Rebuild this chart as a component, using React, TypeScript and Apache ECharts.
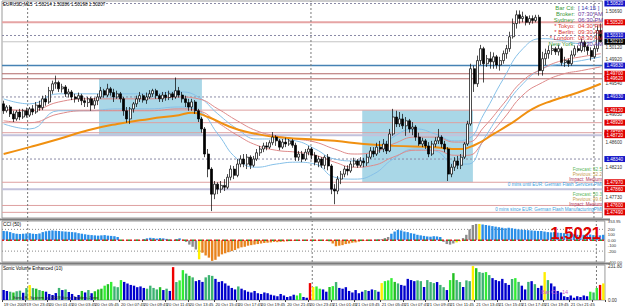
import { useEffect, useRef } from "react";
import * as echarts from "echarts";

const FONT = "'Liberation Sans', Arial, sans-serif";

// x-axis tick labels and the bar index at which each one sits
const tickLabels = [
  "19 Oct 2009", "19 Oct 23:45",
  "20 Oct 01:45", "20 Oct 03:45", "20 Oct 05:45", "20 Oct 07:45", "20 Oct 09:45", "20 Oct 11:45",
  "20 Oct 13:45", "20 Oct 15:45", "20 Oct 17:45", "20 Oct 19:45", "20 Oct 21:45", "20 Oct 23:45",
  "21 Oct 01:45", "21 Oct 03:45", "21 Oct 05:45", "21 Oct 07:45", "21 Oct 09:45", "21 Oct 11:45",
  "21 Oct 13:45", "21 Oct 15:45", "21 Oct 17:45", "21 Oct 19:45", "21 Oct 21:45", "21 Oct 23:45",
];
const tickIndex = [0, 7, 14, 21, 28, 36, 43, 50, 57, 65, 72, 79, 87, 94, 101, 108, 116, 123, 130, 137, 145, 152, 159, 166, 174, 181];
// day separators, in bar units (bar i is centred on i)
const daySeparators = [7.4, 94.7, 181.9];

// EURUSD M15 candles in pips (price * 10000): [open, close, low, high]
const candles = [
  [14922,14911,14906,14927],[14911,14917,14908,14920],[14917,14906,14901,14920],[14906,14898,14893,14911],[14898,14909,14895,14912],
  [14909,14901,14896,14914],[14901,14911,14898,14914],[14911,14904,14900,14916],[14904,14914,14901,14917],[14914,14909,14904,14920],
  [14909,14920,14906,14925],[14920,14916,14911,14927],[14916,14930,14912,14935],[14930,14925,14919,14936],[14925,14943,14922,14949],
  [14943,14954,14938,14959],[14954,14956,14946,14967],[14956,14946,14941,14959],[14946,14949,14940,14954],[14949,14938,14933,14952],
  [14938,14941,14932,14946],[14941,14933,14928,14944],[14933,14930,14924,14938],[14930,14935,14925,14940],[14935,14927,14920,14938],
  [14927,14924,14917,14932],[14924,14930,14917,14933],[14930,14920,14911,14933],[14920,14927,14914,14932],[14927,14933,14920,14938],
  [14933,14943,14930,14949],[14943,14936,14932,14946],[14936,14946,14933,14954],[14946,14940,14935,14949],[14940,14933,14925,14946],
  [14933,14938,14930,14943],[14938,14930,14924,14941],[14930,14911,14903,14933],[14911,14898,14892,14917],[14898,14914,14890,14917],
  [14914,14922,14908,14925],[14922,14930,14917,14935],[14930,14935,14925,14941],[14935,14928,14924,14938],[14928,14933,14922,14940],
  [14933,14938,14930,14944],[14938,14943,14933,14946],[14943,14935,14930,14946],[14935,14930,14925,14938],[14930,14936,14925,14941],
  [14936,14932,14927,14941],[14932,14938,14928,14943],[14938,14933,14928,14941],[14933,14943,14930,14964],[14943,14936,14932,14949],
  [14936,14930,14924,14941],[14930,14924,14917,14935],[14924,14917,14911,14930],[14917,14925,14911,14930],[14925,14911,14906,14928],
  [14911,14898,14893,14914],[14898,14882,14876,14901],[14882,14842,14837,14885],[14842,14818,14805,14850],[14818,14778,14751,14821],
  [14778,14794,14770,14799],[14794,14786,14778,14797],[14786,14792,14780,14799],[14792,14789,14783,14802],[14789,14805,14786,14810],
  [14805,14818,14800,14824],[14818,14808,14802,14823],[14808,14826,14805,14834],[14826,14834,14821,14840],[14834,14826,14821,14842],
  [14826,14837,14818,14842],[14837,14824,14818,14840],[14824,14834,14821,14839],[14834,14844,14831,14850],[14844,14850,14839,14855],
  [14850,14855,14845,14860],[14855,14853,14848,14861],[14853,14860,14850,14864],[14860,14869,14856,14877],[14869,14863,14855,14872],
  [14863,14853,14848,14866],[14853,14861,14850,14866],[14861,14858,14853,14868],[14858,14863,14855,14866],[14863,14856,14852,14866],
  [14856,14837,14831,14860],[14837,14842,14831,14847],[14842,14834,14829,14847],[14834,14845,14831,14850],[14845,14850,14840,14855],
  [14850,14840,14834,14853],[14840,14829,14824,14845],[14829,14834,14821,14839],[14834,14824,14820,14837],[14824,14837,14818,14840],
  [14837,14823,14816,14842],[14823,14786,14778,14826],[14786,14783,14762,14794],[14783,14802,14778,14807],[14802,14810,14794,14815],
  [14810,14818,14805,14823],[14818,14815,14808,14824],[14815,14826,14812,14831],[14826,14831,14821,14836],[14831,14824,14820,14834],
  [14824,14831,14821,14837],[14831,14828,14821,14836],[14828,14837,14823,14842],[14837,14847,14834,14853],[14847,14842,14837,14853],
  [14842,14853,14839,14860],[14853,14850,14844,14863],[14850,14858,14845,14866],[14858,14847,14842,14863],[14847,14874,14845,14882],
  [14874,14901,14871,14914],[14901,14890,14885,14911],[14890,14898,14885,14909],[14898,14887,14882,14906],[14887,14895,14871,14901],
  [14895,14882,14876,14898],[14882,14885,14872,14893],[14885,14869,14863,14888],[14869,14858,14855,14876],[14858,14863,14853,14868],
  [14863,14855,14850,14866],[14855,14842,14837,14861],[14842,14858,14839,14863],[14858,14863,14853,14869],[14863,14869,14858,14882],
  [14869,14858,14852,14872],[14858,14850,14845,14863],[14850,14810,14799,14853],[14810,14821,14805,14826],[14821,14831,14815,14837],
  [14831,14824,14818,14839],[14824,14837,14818,14842],[14837,14858,14834,14861],[14858,14890,14855,14895],[14890,14978,14887,14986],
  [14978,14954,14941,14983],[14954,14991,14949,14999],[14991,15010,14984,15016],[15010,14986,14956,15013],[14986,14994,14981,15000],
  [14994,14989,14978,15005],[14989,14997,14978,15004],[14997,14984,14978,15000],[14984,14991,14975,14997],[14991,15002,14986,15007],
  [15002,15010,14994,15016],[15010,15029,15005,15037],[15029,15050,15026,15058],[15050,15064,15042,15071],[15064,15058,15050,15071],
  [15058,15061,15052,15069],[15061,15052,15047,15064],[15052,15058,15048,15063],[15058,15055,15050,15063],[15055,15060,15052,15064],
  [15060,14975,14967,15064],[14975,14994,14967,15005],[14994,15002,14984,15010],[15002,15007,14994,15015],[15007,15010,15000,15016],
  [15010,15005,15000,15013],[15005,15010,14999,15016],[15010,14988,14983,15013],[14988,14991,14981,14997],[14991,14986,14981,14994],
  [14986,15000,14983,15007],[15000,15010,14997,15015],[15010,15007,15004,15015],[15007,15020,15004,15026],[15020,15013,15005,15023],
  [15013,15007,15000,15016],[15007,14997,14991,15012],[14997,15010,14994,15015],[15010,15039,15005,15047],[15039,15021,15020,15050],
];

// moving averages: [bar index, pips]
const maSlow = [[0,14842],[8,14853],[17,14866],[26,14880],[35,14890],[45,14898],[54,14904],[58,14908],[63,14901],[69,14887],[75,14877],[84,14869],[93,14866],[102,14863],[111,14858],[120,14855],[133,14853],[140,14850],[145,14856],[151,14874],[157,14893],[163,14914],[169,14927],[177,14940],[184,14954]];
const maBlueUpper = [[0,14930],[8,14922],[17,14938],[26,14938],[35,14938],[45,14938],[54,14941],[60,14933],[66,14906],[72,14882],[78,14866],[84,14866],[90,14863],[96,14850],[102,14834],[108,14831],[114,14842],[120,14869],[127,14882],[133,14874],[139,14863],[143,14866],[148,14906],[154,14962],[160,15010],[166,15026],[172,15023],[178,15018],[184,15026]];
const maBlueLower = [[0,14890],[8,14882],[17,14911],[26,14911],[35,14914],[45,14914],[54,14917],[60,14911],[66,14874],[72,14834],[78,14821],[84,14826],[90,14829],[96,14826],[102,14805],[108,14802],[114,14810],[120,14834],[127,14850],[133,14847],[139,14826],[143,14826],[148,14866],[154,14914],[160,14954],[166,14978],[172,14986],[178,14991],[184,14997]];
const maRedUpper = [[0,14914],[8,14911],[17,14925],[26,14930],[35,14930],[45,14930],[54,14933],[60,14930],[66,14914],[72,14895],[78,14879],[84,14871],[90,14866],[96,14861],[102,14850],[108,14842],[114,14845],[120,14858],[127,14869],[133,14869],[139,14861],[143,14861],[148,14885],[154,14922],[160,14959],[166,14978],[172,14991],[178,14997],[184,15002]];
const maRedLower = [[0,14895],[8,14892],[17,14906],[26,14911],[35,14911],[45,14911],[54,14914],[60,14911],[66,14892],[72,14872],[78,14856],[84,14848],[90,14845],[96,14840],[102,14829],[108,14821],[114,14824],[120,14837],[127,14848],[133,14848],[139,14840],[143,14840],[148,14863],[154,14898],[160,14936],[166,14956],[172,14969],[178,14975],[184,14981]];

// session range boxes (bar units)
const sessionBoxes = [
  { start: 29.4, end: 61.1, high: 1.4962, low: 1.4872 },
  { start: 110.5, end: 144.6, high: 1.4912, low: 1.4797 },
];

// horizontal levels drawn on the price pane
const levelLines = [
  { price: 1.5082, kind: "pivot" },
  { price: 1.5052, kind: "zoneBold" },
  { price: 1.5031, kind: "pivot" },
  { price: 1.5021, kind: "bid" },
  { price: 1.4983, kind: "daily" },
  { price: 1.497, kind: "sr" },
  { price: 1.4962, kind: "sr" },
  { price: 1.4933, kind: "pivot" },
  { price: 1.4912, kind: "zone" },
  { price: 1.4892, kind: "zone" },
  { price: 1.4876, kind: "zone" },
  { price: 1.4872, kind: "range" },
  { price: 1.4834, kind: "pivot" },
  { price: 1.4797, kind: "zone" },
  { price: 1.4786, kind: "range" },
  { price: 1.476, kind: "zone" },
  { price: 1.4749, kind: "zone" },
];
const priceTicks = [1.5069, 1.5012, 1.4992, 1.4954, 1.4905, 1.486, 1.4821, 1.4773];

// CCI(50)
const cci = [
  170,165,150,130,120,115,120,125,130,120,
  115,125,150,165,175,180,175,170,165,160,
  155,150,145,130,120,110,100,95,90,85,
  90,95,85,80,75,60,5,-5,-10,-8,
  5,10,-5,20,35,45,40,30,40,35,
  25,10,5,20,35,10,-30,-80,-120,-170,
  -350,-230,-280,-320,-380,-360,-300,-260,-240,-220,
  -200,-180,-150,-130,-120,-100,-90,-80,-70,-60,
  -50,-45,-40,-30,-35,-30,-25,-20,-15,-10,
  -5,5,-5,-10,5,-5,-8,-10,-5,-12,
  -20,-60,-110,-100,-90,-70,-60,-45,-40,-25,
  -15,-10,-5,5,10,15,20,40,60,120,
  160,190,180,160,150,130,120,100,90,80,
  70,65,75,70,60,-30,-70,-80,-60,-40,
  -20,40,100,200,280,300,300,290,280,270,
  260,250,240,230,220,230,220,210,200,195,
  190,185,180,175,170,170,160,150,145,150,
  140,135,130,125,120,110,100,95,100,110,
  105,95,85,90,100,
];
const cciGrey = [55, 56, 57, 58, 59, 116, 117, 118, 135, 136, 137, 138, 141, 142, 143, 144, 145];
const cciYellow = [60, 139, 140, 146];
const cciLevels = [200, -200];
const cciTicks = [353.95, 200, 100, 0, -100, -200, -400];

// Sonic volume and its bar class
const volume = [
  66,60,55,50,58,62,48,79,99,79,
  75,66,60,55,40,33,46,80,66,70,
  53,40,20,33,60,50,66,45,58,70,
  75,95,105,120,90,85,132,120,110,100,
  95,85,90,80,75,95,80,70,85,66,
  75,60,218,119,130,198,175,160,150,125,
  132,120,150,165,160,140,120,125,110,95,
  80,70,90,75,65,55,50,60,45,40,
  50,45,35,30,25,40,30,20,25,35,
  30,45,20,15,112,86,90,75,70,55,
  86,92,119,80,75,85,60,50,66,45,
  55,66,60,70,66,55,112,125,130,145,
  120,110,100,95,140,132,125,130,125,86,
  132,119,112,119,100,85,66,132,178,132,
  119,86,130,125,225,211,185,180,185,165,
  145,132,125,140,112,100,140,145,120,95,
  70,120,125,105,80,95,185,132,110,90,
  60,50,25,20,30,15,25,20,30,25,
  55,50,80,100,110,
];
const volumeClass = (
  "BBSGSSBSYS" + "GSGBBBBSBS" + "BBBBGBSBGG" + "GLGLSSLBBB" + "BBBBSSSSGB" +
  "SBRSLLSGSB" + "BBSSSBBBBB" + "BBSBBBBBBB" + "BBBBBBBBBB" + "LLBBRYLLBB" +
  "GLSBBBBBBB" + "BSBBSBYLLL" + "GSBBBBBSSB" + "SSSBSSBLGS" + "SBSSYGSSLS" +
  "BBBBBBSLSB" + "BSBSBBYSBB" + "BBBBBBBBBB" + "LSLRY"
).split("");

const P_MIN = 1.474, P_MAX = 1.5086;
const C_MIN = -400, C_MAX = 354;
const V_MAX = 232;

export default function App() {
  const ref = useRef<HTMLDivElement>(null);

  useEffect(() => {
    if (!ref.current) return;
    const chart = echarts.init(ref.current, null, { renderer: "svg" });
    const N = candles.length;
    const X0 = -0.5, X1 = N - 0.5;
    const cat = candles.map((_, i) => String(i));
    const px = (v: number) => v / 10000;
    const ma = (arr: number[][]) => arr.map(([i, v]) => [i, px(v)]);
    const tickFn = (idx: number) => tickIndex.includes(idx);

    const levelStyle: Record<string, any> = {
      pivot: { line: { type: [2, 2], color: "#8a8aa6", width: 1 }, bg: "#1414c8" },
      zoneBold: { line: { type: "solid", color: "#e6a4a4", width: 2 }, bg: "#e00000" },
      zone: { line: { type: "solid", color: "#dea0a0", width: 1 }, bg: "#e00000" },
      bid: { line: { type: "solid", color: "#c4c4c4", width: 1 }, bg: "#000000" },
      daily: { line: { type: "solid", color: "#4682b4", width: 1.5 }, bg: "#1414c8" },
      sr: { line: { type: "solid", color: "#b06a6a", width: 1 }, bg: "#e00000" },
      range: { line: { type: "solid", color: "#c2c2dc", width: 2 }, bg: "#e00000" },
    };

    const volColor: Record<string, string> = {
      B: "#0000cd", S: "#3cb371", G: "#22c022", L: "#33ee33", Y: "#ffee00", R: "#ee0000",
    };

    const hline = (xi: number, yi: number, y: number, lineStyle: any, z = 2, endLabel?: any) => ({
      type: "line", xAxisIndex: xi, yAxisIndex: yi,
      data: [[X0, y], [X1, y]],
      symbol: "none", silent: true, z, lineStyle,
      ...(endLabel ? { endLabel } : {}),
    });
    const vline = (xi: number, yi: number, x: number, lo: number, hi: number) => ({
      type: "line", xAxisIndex: xi, yAxisIndex: yi,
      data: [[x, lo], [x, hi]],
      symbol: "none", silent: true, z: 2,
      lineStyle: { type: [2, 2], color: "#7a7a7a", width: 1 },
    });

    const infoRows = [
      ["Bar Ctl:", "[ 14:15 ]", "#3c9a3c", "#3a3ab0"],
      ["Broker:", "07:30 AM", "#3c9a3c", "#6a3aa0"],
      ["Sydney:", "06:30 PM", "#3c9a3c", "#6a3aa0"],
      ["* Tokyo:", "04:30 PM", "#d83030", "#d83030"],
      ["* Berlin:", "09:30 AM", "#d83030", "#d83030"],
      ["* London:", "08:30 AM", "#d83030", "#d83030"],
      ["New York:", "03:30 AM", "#3c9a3c", "#6a3aa0"],
    ];
    const calRows = [
      ["Forecast: 52.5", "#5cb85c", 169],
      ["Previous: 52.2", "#c8a050", 174],
      ["Impact: Medium", "#b03058", 179],
      ["0 mins until EUR: German Flash Services PMI", "#3aa0e0", 184],
      ["Forecast: 50.3", "#5cb85c", 194],
      ["Previous: 49.6", "#c8a050", 199],
      ["Impact: Medium", "#b03058", 204],
      ["0 mins since EUR: German Flash ManufacturingPMI", "#3aa0e0", 209],
    ];

    const graphic: any[] = [
      { type: "rect", shape: { x: 0, y: 218.5, width: 610, height: 2 }, style: { fill: "#7c7c7c" }, z: 10 },
      { type: "rect", shape: { x: 0, y: 262.5, width: 610, height: 2 }, style: { fill: "#7c7c7c" }, z: 10 },
      { type: "text", x: 3, y: 4.5, style: { text: "EURUSD,M15  1.50214 1.50286 1.50198 1.50207", fontSize: 4.6, fill: "#000", fontFamily: FONT, verticalAlign: "middle" }, z: 20 },
      { type: "text", x: 3, y: 224, style: { text: "CCI (50)", fontSize: 4.8, fill: "#000", fontFamily: FONT, verticalAlign: "middle" }, z: 20 },
      { type: "text", x: 3, y: 268.5, style: { text: "Sonic Volume Enhanced (10)", fontSize: 4.6, fill: "#000", fontFamily: FONT, verticalAlign: "middle" }, z: 20 },
      { type: "text", x: 13, y: 297, style: { text: "Sonic R. System (c) 2009 Sonic Traders Zone", fontSize: 4.2, fill: "#222", fontFamily: FONT, verticalAlign: "middle" }, z: 20 },
      { type: "text", x: 601, y: 232.5, style: { text: "1.5021", fontSize: 16.5, fontWeight: "bold", fill: "#e00000", fontFamily: FONT, align: "right", verticalAlign: "middle" }, z: 20 },
      { type: "text", x: 541, y: 292, style: { text: "Bar Ct.", fontSize: 5.5, fill: "#cc55cc", fontFamily: FONT, verticalAlign: "middle" }, z: 20 },
      { type: "text", x: 562, y: 292, style: { text: "14", fontSize: 5.5, fill: "#cc55cc", fontFamily: FONT, verticalAlign: "middle" }, z: 20 },
    ];
    infoRows.forEach(([lab, val, c1, c2], k) => {
      const y = 8 + 6 * k;
      graphic.push({ type: "text", x: 575, y, z: 20, style: { text: lab, fontSize: 5.9, fill: c1, fontFamily: FONT, align: "right", verticalAlign: "middle" } });
      graphic.push({ type: "text", x: 578, y, z: 20, style: { text: val, fontSize: 5.9, fill: c2, fontFamily: FONT, verticalAlign: "middle" } });
    });
    calRows.forEach(([t, c, y]) => {
      graphic.push({ type: "text", x: 602, y, z: 20, style: { text: t, fontSize: 4.6, fill: c, fontFamily: FONT, align: "right", verticalAlign: "middle" } });
    });

    const hiddenX = (g: number) => ({ type: "value", gridIndex: g, min: X0, max: X1, show: false });

    const series: any[] = [
      // session boxes
      {
        type: "line", xAxisIndex: 3, yAxisIndex: 0,
        data: [[X0, P_MIN]], symbol: "none", silent: true, z: 1, lineStyle: { opacity: 0 },
        markArea: {
          silent: true,
          itemStyle: { color: "#a9d7e7", opacity: 1 },
          data: sessionBoxes.map((b) => [
            { coord: [b.start, b.high] },
            { coord: [b.end, b.low] },
          ]),
        },
      },
      // horizontal levels
      ...levelLines.map((l) =>
        hline(3, 0, l.price, levelStyle[l.kind].line, 2, {
          show: true,
          formatter: l.price.toFixed(5),
          color: "#ffffff",
          backgroundColor: levelStyle[l.kind].bg,
          fontSize: 4.6,
          padding: [0.5, 2],
          distance: 2,
          fontFamily: FONT,
        })
      ),
      // day separators
      ...daySeparators.map((x) => vline(3, 0, x, P_MIN, P_MAX)),
      ...daySeparators.map((x) => vline(4, 1, x, C_MIN, C_MAX)),
      ...daySeparators.map((x) => vline(5, 2, x, 0, V_MAX)),
      // moving averages
      { type: "line", xAxisIndex: 0, yAxisIndex: 0, data: ma(maBlueUpper), smooth: true, showSymbol: false, silent: true, z: 3, lineStyle: { color: "#86c0e8", width: 1 } },
      { type: "line", xAxisIndex: 0, yAxisIndex: 0, data: ma(maBlueLower), smooth: true, showSymbol: false, silent: true, z: 3, lineStyle: { color: "#86c0e8", width: 1 } },
      { type: "line", xAxisIndex: 0, yAxisIndex: 0, data: ma(maRedUpper), smooth: true, showSymbol: false, silent: true, z: 3, lineStyle: { color: "#de8a8a", width: 1 } },
      { type: "line", xAxisIndex: 0, yAxisIndex: 0, data: ma(maRedLower), smooth: true, showSymbol: false, silent: true, z: 3, lineStyle: { color: "#de8a8a", width: 1 } },
      { type: "line", xAxisIndex: 0, yAxisIndex: 0, data: ma(maSlow), smooth: true, showSymbol: false, silent: true, z: 3, lineStyle: { color: "#f09010", width: 2 } },
      // candles
      {
        type: "candlestick",
        xAxisIndex: 0, yAxisIndex: 0,
        data: candles.map((c) => c.map(px)),
        barWidth: 2.5,
        z: 5,
        itemStyle: { color: "#ffffff", color0: "#000000", borderColor: "#000000", borderColor0: "#000000", borderWidth: 0.7 },
      },
      // CCI
      {
        type: "bar",
        xAxisIndex: 1, yAxisIndex: 1,
        barWidth: 2.4, z: 3,
        data: cci.map((v, i) => ({
          value: v,
          itemStyle: {
            color: cciYellow.includes(i) ? "#ffee00" : cciGrey.includes(i) ? "#8c8c8c" : v >= 0 ? "#2a8fe8" : "#e8841e",
          },
        })),
      },
      ...cciLevels.map((v) => hline(4, 1, v, { type: [1, 2], color: "#888888", width: 1 }, 2)),
      hline(4, 1, 0, { type: [2, 2], color: "#dd2020", width: 1.5 }, 4),
      hline(4, 1, 0, { type: [2, 6], dashOffset: 2, color: "#2aa02a", width: 1.5 }, 4),
      // volume
      {
        type: "bar",
        xAxisIndex: 2, yAxisIndex: 2,
        barWidth: 2.4, z: 3,
        data: volume.map((v, i) => ({ value: v, itemStyle: { color: volColor[volumeClass[i]] || "#0000cd" } })),
      },
    ];

    const option: any = {
      animation: false,
      backgroundColor: "#ffffff",
      textStyle: { fontFamily: FONT },
      grid: [
        { left: 2, top: 1, width: 607, height: 217, show: true, borderColor: "#9a9a9a", borderWidth: 1 },
        { left: 2, top: 221, width: 607, height: 41, show: true, borderColor: "#9a9a9a", borderWidth: 1 },
        { left: 2, top: 265, width: 607, height: 35, show: true, borderColor: "#9a9a9a", borderWidth: 1 },
      ],
      xAxis: [
        ...[0, 1, 2].map((g) => ({
          type: "category",
          gridIndex: g,
          data: cat,
          boundaryGap: true,
          axisLine: { show: false },
          axisTick: g === 2 ? { show: true, interval: tickFn, length: 2, lineStyle: { color: "#444" } } : { show: false },
          axisLabel:
            g === 2
              ? {
                  show: true,
                  interval: tickFn,
                  formatter: (_v: string, idx: number) => tickLabels[tickIndex.indexOf(idx)] ?? "",
                  fontSize: 4.2,
                  color: "#222",
                  align: "left",
                  margin: 2,
                  fontFamily: FONT,
                }
              : { show: false },
          splitLine: { show: false },
        })),
        hiddenX(0), hiddenX(1), hiddenX(2),
      ],
      yAxis: [
        {
          type: "value", gridIndex: 0, position: "right", min: P_MIN, max: P_MAX,
          axisLine: { show: false }, axisTick: { show: false }, splitLine: { show: false },
          axisLabel: { customValues: priceTicks, formatter: (v: number) => v.toFixed(5), fontSize: 4.6, color: "#333", margin: 3, fontFamily: FONT },
        },
        {
          type: "value", gridIndex: 1, position: "right", min: C_MIN, max: C_MAX,
          axisLine: { show: false }, axisTick: { show: false }, splitLine: { show: false },
          axisLabel: {
            customValues: cciTicks,
            formatter: (v: number) => (v === 353.95 ? "353.95" : v === 0 ? "0.00" : v === -400 ? "-400.00" : String(v)),
            fontSize: 4.2, lineHeight: 4.5, color: "#333", margin: 3, fontFamily: FONT,
          },
        },
        {
          type: "value", gridIndex: 2, position: "right", min: 0, max: V_MAX,
          axisLine: { show: false }, axisTick: { show: false }, splitLine: { show: false },
          axisLabel: { customValues: [222, 0], formatter: (v: number) => (v === 0 ? "0.00" : "231.80"), fontSize: 4.6, color: "#333", margin: 3, fontFamily: FONT },
        },
      ],
      series,
      graphic,
    };
    chart.setOption(option);
    return () => chart.dispose();
  }, []);

  return (
    <div
      ref={ref}
      style={{ position: "absolute", left: 0, top: 0, width: 625, height: 308, background: "#fff" }}
    />
  );
}
